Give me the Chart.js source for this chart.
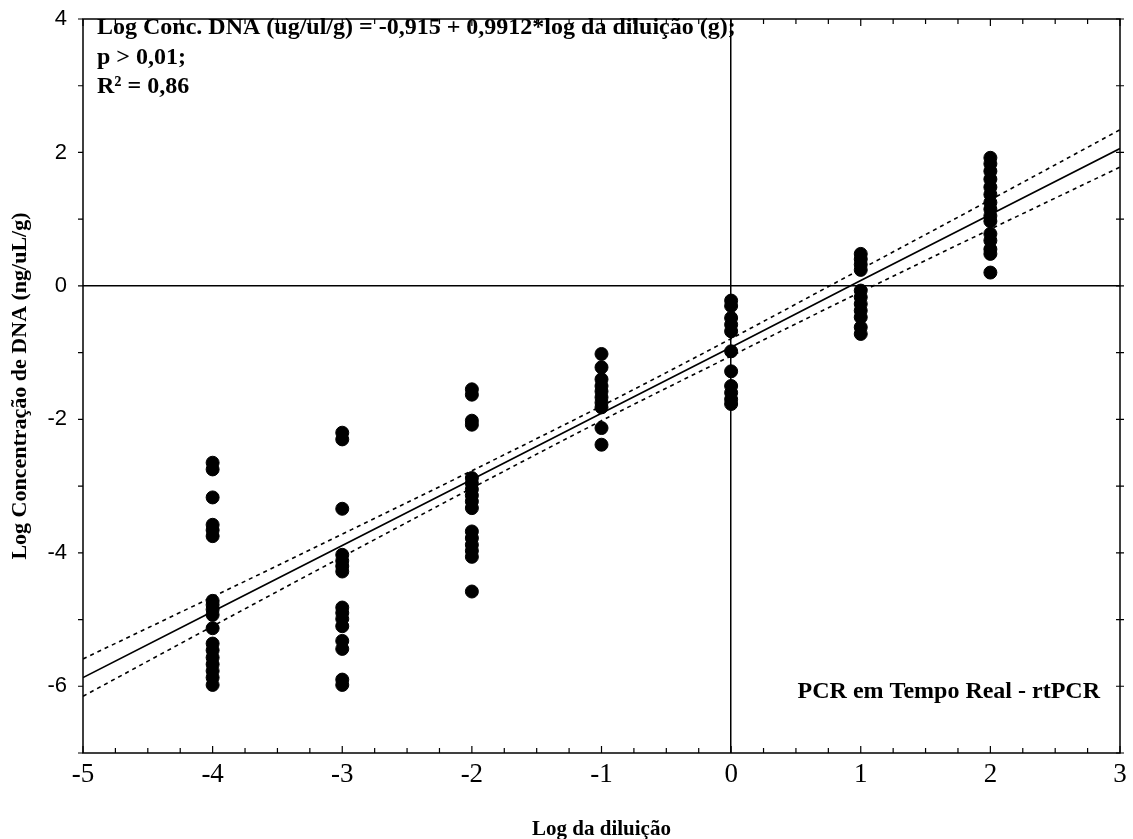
<!DOCTYPE html>
<html><head><meta charset="utf-8">
<script src="https://cdn.jsdelivr.net/npm/chart.js@4.4.1/dist/chart.umd.min.js"></script>
<style>html,body{margin:0;padding:0;background:#fff}#wrap{width:1133px;height:839px}</style>
</head><body><div id="wrap"><canvas id="c" width="1133" height="839"></canvas></div>
<script>
// ---- data ----
const dilutions = [-4, -3, -2, -1, 0, 1, 2];
const concM4 = [-2.65,-2.75,-3.17,-3.58,-3.66,-3.75,-4.72,-4.78,-4.85,-4.93,-5.13,-5.36,-5.46,-5.57,-5.67,-5.77,-5.87,-5.98];
const concM3 = [-2.2,-2.3,-3.34,-4.03,-4.12,-4.2,-4.28,-4.82,-4.9,-4.99,-5.1,-5.32,-5.44,-5.9,-5.98];
const concM2 = [-1.55,-1.63,-2.02,-2.08,-2.88,-2.96,-3.05,-3.14,-3.23,-3.33,-3.68,-3.78,-3.88,-3.97,-4.06,-4.58];
const concM1 = [-1.02,-1.22,-1.4,-1.5,-1.58,-1.67,-1.75,-1.82,-2.13,-2.38];
const conc0  = [-0.22,-0.3,-0.48,-0.58,-0.68,-0.98,-1.28,-1.5,-1.6,-1.7,-1.77];
const concP1 = [0.48,0.4,0.32,0.24,-0.07,-0.17,-0.27,-0.37,-0.47,-0.62,-0.72];
const concP2 = [1.92,1.83,1.72,1.6,1.48,1.37,1.25,1.15,1.05,0.97,0.78,0.68,0.55,0.48,0.2];
const concByDilution = [concM4, concM3, concM2, concM1, conc0, concP1, concP2];

const fitX   = [-5, -4, -3, -2, -1, 0, 1, 2, 3];
const fitY   = [-5.87, -4.88, -3.89, -2.90, -1.91, -0.92, 0.08, 1.07, 2.06];
const upperY = [-5.59, -4.66, -3.72, -2.77, -1.80, -0.79, 0.25, 1.29, 2.34];
const lowerY = [-6.15, -5.10, -4.06, -3.03, -2.02, -1.05, -0.09, 0.85, 1.78];

const xTickLabels = ['-5','-4','-3','-2','-1','0','1','2','3'];
const yTickLabels = ['-6','-4','-2','0','2','4'];

const annotationLines = ['Log Conc. DNA (ug/ul/g) = -0,915 + 0,9912*log da diluição (g);', 'p > 0,01;', 'R² = 0,86'];
const cornerLabel = 'PCR em Tempo Real - rtPCR';
const xTitle = 'Log da diluição';
const yTitle = 'Log Concentração de DNA (ng/uL/g)';

// ---- build datasets ----
const pts = [];
dilutions.forEach((d, i) => concByDilution[i].forEach(v => pts.push({x: d, y: v})));
const toXY = ys => fitX.map((x, i) => ({x, y: ys[i]}));

const serif = "Liberation Serif";
const sans = "Liberation Sans";

const framePlugin = {
  id: 'frame',
  afterDraw(chart) {
    const {ctx, chartArea: a, scales: {x, y}} = chart;
    ctx.save();
    ctx.strokeStyle = '#000';
    ctx.lineWidth = 1.5;
    ctx.strokeRect(a.left, a.top, a.right - a.left, a.bottom - a.top);
    ctx.lineWidth = 1.2;
    ctx.beginPath();
    for (let k = 0; k <= 32; k++) {
      const v = -5 + k * 0.25;
      const px = x.getPixelForValue(v);
      const len = (k % 4 === 0) ? 7 : 5;
      ctx.moveTo(px, a.bottom); ctx.lineTo(px, a.bottom - len);
      ctx.moveTo(px, a.top); ctx.lineTo(px, a.top + len);
    }
    for (let v = -7; v <= 4; v++) {
      const py = y.getPixelForValue(v);
      ctx.moveTo(a.left, py); ctx.lineTo(a.left - 5, py);
      ctx.moveTo(a.right - 4, py); ctx.lineTo(a.right + 4, py);
    }
    ctx.stroke();
    // annotations
    ctx.fillStyle = '#000';
    ctx.font = 'bold 24px ' + serif;
    ctx.textBaseline = 'middle';
    ctx.textAlign = 'left';
    annotationLines.forEach((t, i) => ctx.fillText(t, a.left + 14, a.top + 9 + i * 29.5));
    ctx.textAlign = 'right';
    ctx.fillText(cornerLabel, a.right - 20, y.getPixelForValue(-6.08));
    ctx.restore();
  }
};

new Chart(document.getElementById('c'), {
  type: 'scatter',
  data: {
    datasets: [
      {type: 'line', data: toXY(fitY), borderColor: '#000', borderWidth: 1.7, pointRadius: 0, fill: false, order: 1},
      {type: 'line', data: toXY(upperY), borderColor: '#000', borderWidth: 1.6, borderDash: [4, 4], pointRadius: 0, fill: false, cubicInterpolationMode: 'monotone', order: 1},
      {type: 'line', data: toXY(lowerY), borderColor: '#000', borderWidth: 1.6, borderDash: [4, 4], pointRadius: 0, fill: false, cubicInterpolationMode: 'monotone', order: 1},
      {data: pts, backgroundColor: '#000', borderColor: '#000', pointRadius: 6.5, pointHoverRadius: 6.5, order: 2}
    ]
  },
  options: {
    responsive: false,
    animation: false,
    layout: {padding: {left: 0, right: 13, top: 19, bottom: 0}},
    plugins: {legend: {display: false}, tooltip: {enabled: false}},
    scales: {
      x: {
        type: 'linear', min: -5, max: 3,
        afterFit: s => { s.height = 86; s.paddingLeft = 0; s.paddingRight = 0; },
        ticks: {stepSize: 1, color: '#000', font: {family: serif, size: 27}, padding: 6, maxRotation: 0,
          callback: v => { const i = xTickLabels.indexOf(String(v)); return i >= 0 ? xTickLabels[i] : ''; }},
        grid: {drawTicks: false, lineWidth: 1.5, color: c => (c.tick && c.tick.value === 0) ? '#000' : 'rgba(0,0,0,0)'},
        border: {display: false},
        title: {display: true, text: xTitle, color: '#000', font: {family: serif, size: 21, weight: 'bold'}, padding: {top: 0, bottom: -3}}
      },
      y: {
        type: 'linear', min: -7, max: 4,
        afterFit: s => { s.width = 83; s.paddingTop = 0; s.paddingBottom = 0; },
        ticks: {stepSize: 1, color: '#000', font: {family: sans, size: 22}, padding: 16,
          callback: v => { const i = yTickLabels.indexOf(String(v)); return i >= 0 ? yTickLabels[i] : ''; }},
        grid: {drawTicks: false, lineWidth: 1.5, color: c => (c.tick && c.tick.value === 0) ? '#000' : 'rgba(0,0,0,0)'},
        border: {display: false},
        title: {display: true, text: yTitle, color: '#000', font: {family: serif, size: 22, weight: 'bold'}, padding: {top: 7, bottom: 0}}
      }
    }
  },
  plugins: [framePlugin]
});
</script>
</body></html>
